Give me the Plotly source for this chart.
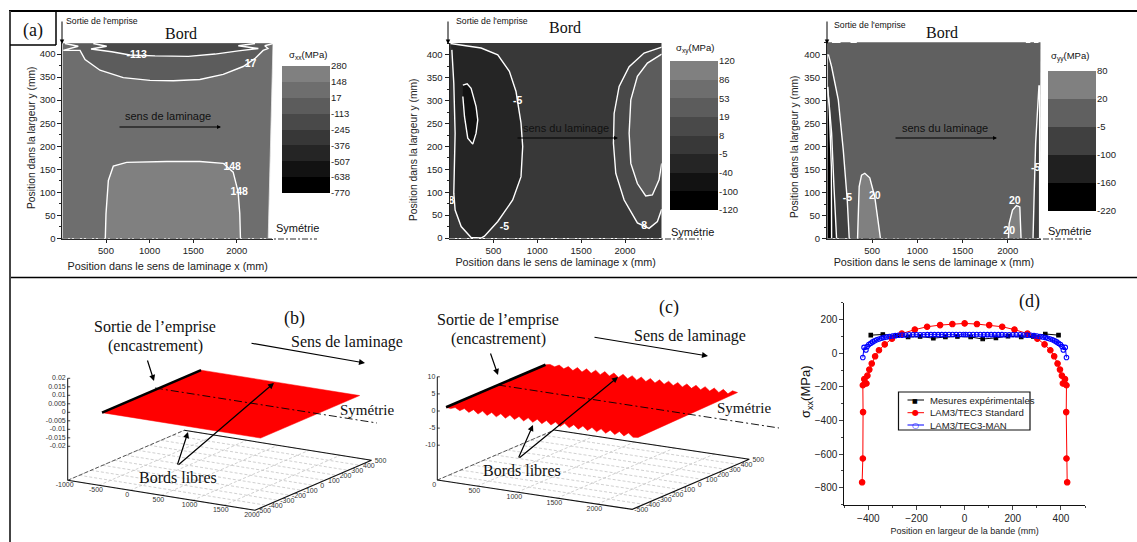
import plotly.graph_objects as go

W, H = 1137, 542
SANS = "Liberation Sans, Arial, sans-serif"
SERIF = "Liberation Serif, Times New Roman, serif"
INK = "#222222"

# ---------- panel (a): sigma_xx ----------
a1_levels = ["-770", "-638", "-507", "-376", "-245", "-113", "17", "148", "280"]
a1_colors = ["#000000", "#121212", "#252525", "#373737", "#494949", "#5c5c5c", "#6e6e6e", "#808080"]
a1_bg_x = [0, 2415, 2360, 0]
a1_bg_y = [424, 424, 0, 0]
a1_c17_x = [30, 182, 10, 202, 260, 431, 698, 1004, 1271, 1576, 1844, 2073, 2206, 2302, 2357, 2321, 2415]
a1_c17_y = [423, 417, 408, 408, 388, 365, 349, 343, 342, 345, 356, 373, 390, 408, 412, 418, 423]
a1_c113_x = [354, 508, 328, 565, 775, 1062, 1444, 1750, 2017, 2247, 2017, 2209]
a1_c113_y = [423, 417, 411, 405, 398, 396, 395, 400, 407, 412, 418, 423]
a1_c148_x = [492, 500, 527, 584, 737, 1195, 1576, 1844, 1958, 2015, 2034, 2042]
a1_c148_y = [0, 54, 126, 157, 165, 167, 167, 163, 144, 101, 54, 0]
a1_lab_x = [851, 2157, 1947, 2027]
a1_lab_y = [397, 377, 154, 100]
a1_lab = ["-113", "17", "148", "148"]

# ---------- panel (a): sigma_xy ----------
a2_levels = ["-120", "-100", "-40", "-5", "8", "19", "53", "86", "120"]
a2_colors = ["#000000", "#121212", "#252525", "#383838", "#494949", "#5c5c5c", "#6e6e6e", "#808080"]
a2_bg_x = [0, 2418, 2418, 0]
a2_bg_y = [426, 426, 0, 0]
a2_dark_x = [11, 360, 550, 682, 758, 815, 834, 815, 720, 550, 398, 360, 246, 133, 64, 49, 64, 49, 27]
a2_dark_y = [425, 415, 400, 364, 320, 251, 200, 134, 83, 36, 4, 0, 1, 25, 61, 98, 229, 338, 411]
a2_core_x = [152, 201, 246, 303, 322, 303, 265, 208, 171, 152]
a2_core_y = [334, 337, 327, 287, 258, 229, 205, 218, 265, 309]
a2_r8_x = [2418, 2217, 2047, 1933, 1876, 1868, 1895, 1990, 2141, 2274, 2369, 2418]
a2_r8_y = [417, 404, 374, 331, 272, 207, 141, 83, 33, 21, 36, 63]
a2_r19_x = [2418, 2255, 2141, 2066, 2047, 2066, 2141, 2236, 2312, 2388, 2418]
a2_r19_y = [402, 382, 353, 302, 229, 163, 119, 92, 94, 127, 163]
a2_lab_x = [777, 625, 2217, 22]
a2_lab_y = [299, 23, 25, 80]
a2_lab = ["-5", "-5", "8", "8"]

# ---------- panel (a): sigma_yy ----------
a3_levels = ["-220", "-160", "-100", "-5", "20", "80"]
a3_colors = ["#000000", "#202020", "#404040", "#606060", "#808080"]
a3_bg_x = [0, 2364, 2352, 0]
a3_bg_y = [426, 426, 0, 0]
a3_m5_x = [15, 51, 125, 180, 224, 246, 0, 0]
a3_m5_y = [400, 373, 301, 192, 84, 0, 0, 400]
a3_m100_x = [7, 51, 77, 106, 0, 0]
a3_m100_y = [330, 229, 113, 0, 0, 330]
a3_m160_x = [7, 51, 48, 26, 7]
a3_m160_y = [0, 0, 156, 279, 329]
a3_r5_x = [2345, 2308, 2290, 2279, 2352, 2352]
a3_r5_y = [333, 207, 84, 0, 0, 333]
a3_p20a_x = [338, 345, 356, 382, 418, 473, 528, 584, 591]
a3_p20a_y = [0, 69, 113, 138, 142, 132, 91, 11, 0]
a3_p20b_x = [2007, 2015, 2052, 2096, 2133, 2144, 2147]
a3_p20b_y = [0, 33, 62, 72, 69, 25, 0]
a3_top_x = [55, 150, None, 260, 330, None, 2200, 2250, None, 2290, 2340]
a3_top_y = [426, 426, None, 426, 426, None, 426, 426, None, 426, 426]
a3_lab_x = [227, 528, 2077, 2015, 2308]
a3_lab_y = [88, 92, 82, 15, 153]
a3_lab = ["-5", "20", "20", "20", "-5"]

a_xticks = [500, 1000, 1500, 2000]

# ---------- panel (b) ----------
b_surf_x = [-590, 1950, 1950, -590]
b_surf_y = [-425, -425, 425, 425]
b_xticks = [-1000, -500, 0, 500, 1000, 1500, 2000]
b_yticks = [-500, -400, -300, -200, -100, 0, 100, 200, 300, 400, 500]
b_zticks = [0.02, 0.015, 0.01, 0.005, 0, -0.005, -0.01, -0.015, -0.02]
b_zlabels = ["0.02", "0.015", "0.01", "0.005", "0", "-0.005", "-0.01", "-0.015", "-0.02"]
b_floor = -0.04

# ---------- panel (c) ----------
c_edge_x = [0, 57, 114, 171, 228, 285, 342, 399, 456, 513, 570, 627, 684, 741, 798, 855, 912, 969, 1026, 1083,
            1140, 1197, 1254, 1311, 1368, 1425, 1482, 1539, 1596, 1653, 1710, 1767, 1824, 1881, 1938, 1995,
            2052, 2109, 2166, 2223, 2280, 2337, 2400]
c_back_z = [0.0, 0.3, -0.2, 0.5, -0.4, 0.5, -0.5, 0.6, -0.5, 0.6, -0.5, 0.6, -0.5, 0.6, -0.5, 0.6, -0.5, 0.6, -0.5, 0.6,
            -0.5, 0.6, -0.5, 0.6, -0.5, 0.6, -0.5, 0.6, -0.5, 0.6, -0.5, 0.6, -0.5, 0.6, -0.5, 0.6,
            -0.5, 0.6, -0.5, 0.6, -0.5, 0.6, 0.3]
c_front_z = [0.0, -0.2, 0.3, -0.4, 0.4, -0.5, 0.5, -0.6, 0.5, -0.6, 0.5, -0.6, 0.5, -0.6, 0.5, -0.6, 0.5, -0.6, 0.5, -0.6,
             0.5, -0.6, 0.5, -0.6, 0.5, -0.6, 0.5, -0.6, 0.5, -0.6, 0.5, -0.6, 0.5, -0.6, 0.5, -0.6,
             0.5, -0.6, 0.5, -0.6, 0.5, -0.6, -0.4]
c_xticks = [0, 500, 1000, 1500, 2000]
c_xend = 2437
c_yticks = b_yticks
c_zticks = [10, 5, 0, -5, -10]
c_floor = -20.2

# ---------- panel (d) ----------
d_names = ["Mesures expérimentales", "LAM3/TEC3 Standard", "LAM3/TEC3-MAN"]
d_exp_x = [-390, -340, -280, -235, -185, -130, -80, -30, 25, 75, 130, 180, 235, 285, 335, 390]
d_exp_y = [108, 112, 105, 97, 100, 90, 97, 100, 97, 85, 92, 102, 97, 100, 115, 108]
d_std_x = [-426, -423, -422, -423, -417, -414, -408, -404, -396, -386, -372, -356, -332, -302, -261, -207, -156,
           -102, -51, 0, 51, 102, 156, 207, 261, 302, 332, 356, 372, 386, 396, 404, 408, 414, 417, 423, 422, 423, 426]
d_std_y = [-768, -626, -350, -190, -154, -178, -180, -133, -97, -61, -18, 18, 53, 87, 117, 141, 158,
           168, 174, 178, 174, 168, 158, 141, 117, 87, 53, 18, -18, -61, -97, -133, -180, -178, -154, -190, -350, -626, -768]
d_man_x = [-423, -418, -410, -405, -398, -390, -382, -374, -365, -355, -345, -335, -325, -313, -300, -288, -275,
           -260, -245, -230, -215, -200, -185, -170, -155, -140, -125, -110, -95, -80, -65, -50, -35, -20, -5,
           5, 20, 35, 50, 65, 80, 95, 110, 125, 140, 155, 170, 185, 200, 215, 230, 245, 260,
           275, 288, 300, 313, 325, 335, 345, 355, 365, 374, 382, 390, 398, 405, 410, 418, 423]
d_man_y = [-25, 35, 20, 40, 52, 60, 68, 75, 80, 85, 90, 94, 97, 100, 103, 105, 107,
           108, 109, 110, 110, 110, 110, 110, 111, 111, 111, 111, 111, 111, 112, 112, 112, 112, 112,
           112, 112, 112, 112, 112, 111, 111, 111, 111, 111, 111, 110, 110, 110, 110, 110, 109, 108,
           107, 105, 103, 100, 97, 94, 90, 85, 80, 75, 68, 60, 52, 40, 20, 35, -25]


def xdom(a, b):
    return [a / W, b / W]


def ydom(top, bot):
    return [1 - bot / H, 1 - top / H]


fig = go.Figure()


def poly(xs, ys, fill, ax, line="white", lw=1.4):
    fig.add_trace(go.Scatter(x=xs, y=ys, mode="lines", fill="toself", fillcolor=fill,
                             line=dict(color=line, width=lw), xaxis="x" + ax, yaxis="y" + ax,
                             hoverinfo="skip", showlegend=False))


def labels(xs, ys, txt, ax):
    fig.add_trace(go.Scatter(x=xs, y=ys, text=txt, mode="text",
                             textfont=dict(family=SANS, size=10.5, color="white", weight="bold"),
                             xaxis="x" + ax, yaxis="y" + ax, hoverinfo="skip", showlegend=False))


def colorbar(levels, colors, ax):
    for i, c in enumerate(colors):
        fig.add_trace(go.Bar(x=[0], y=[1], base=[i], width=1, marker=dict(color=c, line=dict(width=0)),
                             xaxis="x" + ax, yaxis="y" + ax, hoverinfo="skip", showlegend=False))


# sigma_xx
poly(a1_bg_x, a1_bg_y, a1_colors[6], "", line="#e8e8e8", lw=0.8)
poly(a1_c17_x, a1_c17_y, a1_colors[5], "")
poly(a1_c113_x, a1_c113_y, a1_colors[4], "")
poly(a1_c148_x, a1_c148_y, a1_colors[7], "")
labels(a1_lab_x, a1_lab_y, a1_lab, "")
colorbar(a1_levels, a1_colors, "4")
# sigma_xy
poly(a2_bg_x, a2_bg_y, a2_colors[3], "2", line=a2_colors[3], lw=0)
poly(a2_dark_x, a2_dark_y, a2_colors[2], "2")
poly(a2_core_x, a2_core_y, a2_colors[1], "2")
poly(a2_r8_x, a2_r8_y, a2_colors[4], "2")
poly(a2_r19_x, a2_r19_y, a2_colors[5], "2")
labels(a2_lab_x, a2_lab_y, a2_lab, "2")
colorbar(a2_levels, a2_colors, "5")
# sigma_yy
poly(a3_bg_x, a3_bg_y, a3_colors[3], "3", line=a3_colors[3], lw=0)
poly(a3_m5_x, a3_m5_y, a3_colors[2], "3")
poly(a3_m100_x, a3_m100_y, a3_colors[1], "3")
poly(a3_m160_x, a3_m160_y, a3_colors[0], "3")
poly(a3_r5_x, a3_r5_y, a3_colors[2], "3")
poly(a3_p20a_x, a3_p20a_y, a3_colors[4], "3")
poly(a3_p20b_x, a3_p20b_y, a3_colors[4], "3")
fig.add_trace(go.Scatter(x=a3_top_x, y=a3_top_y, mode="lines", line=dict(color="white", width=1.4),
                         xaxis="x3", yaxis="y3", hoverinfo="skip", showlegend=False))
labels(a3_lab_x, a3_lab_y, a3_lab, "3")
colorbar(a3_levels, a3_colors, "6")

# panel (d)
d_styles = [("#000000", "square", 3.5), ("#ff0000", "circle", 5.5), ("#0000ff", "circle-open", 4.5)]
for xs, ys, name, (col, msym, msize) in zip([d_exp_x, d_std_x, d_man_x], [d_exp_y, d_std_y, d_man_y], d_names, d_styles):
    fig.add_trace(go.Scatter(x=xs, y=ys, name=name, mode="lines+markers", xaxis="x7", yaxis="y7",
                             line=dict(color=col, width=1), showlegend=False,
                             marker=dict(symbol=msym, size=msize, color=col, line=dict(color=col, width=1.1))))


# projected 3-D panels, drawn in the pixel-scaled overlay axes
def pb(x, y, z):
    return (67.7 + (x + 1000) * 0.06243 + (y + 500) * 0.1165,
            412.3 + (x + 1000) * 0.01 - (y + 500) * 0.05 - z * 1700)


def pc(x, y, z):
    return (437.3 + x * 0.08 + (y + 500) * 0.117,
            411 + x * 0.012 - (y + 500) * 0.05 - z * 3.42)


def seg(pts, color, width, dash="solid"):
    fig.add_trace(go.Scatter(x=[p[0] for p in pts], y=[p[1] for p in pts], mode="lines",
                             line=dict(color=color, width=width, dash=dash), xaxis="x8", yaxis="y8",
                             hoverinfo="skip", showlegend=False))


def txt(pts, strs, pos="middle center", size=7):
    fig.add_trace(go.Scatter(x=[p[0] for p in pts], y=[p[1] for p in pts], text=strs, mode="text",
                             textposition=pos, textfont=dict(family=SANS, size=size, color="#333333"),
                             xaxis="x8", yaxis="y8", hoverinfo="skip", showlegend=False))


def floor(proj, xs, xmin, xmax, ys, zf, zticks, zlabs):
    for xv in xs:
        seg([proj(xv, -500, zf), proj(xv, 500, zf)], "#c4c4c4", 0.8, "3px,2px")
    for yv in ys:
        seg([proj(xmin, yv, zf), proj(xmax, yv, zf)], "#c4c4c4", 0.8, "3px,2px")
    seg([proj(xmin, -500, zf), proj(xmax, -500, zf), proj(xmax, 500, zf), proj(xmin, 500, zf)], "#111111", 1.1)
    seg([proj(xmin, -500, zf), proj(xmin, 500, zf)], "#333333", 0.8, "4px,2px")
    seg([proj(xmin, -500, zticks[0]), proj(xmin, -500, zf)], "#111111", 1.0)
    for z in zticks:
        a = proj(xmin, -500, z)
        seg([a, (a[0] + 2.5, a[1])], "#111111", 0.8)
    txt([(proj(xmin, -500, z)[0] - 2, proj(xmin, -500, z)[1]) for z in zticks], zlabs, "middle left")
    pts = [proj(xv, -500, zf) for xv in xs]
    txt([(p[0] - 3, p[1] + 5) for p in pts], [str(v) for v in xs])
    pts = [proj(xmax, yv, zf) for yv in ys]
    txt([(p[0] + 9, p[1] + 1) for p in pts], [str(v) for v in ys])


floor(pb, b_xticks, b_xticks[0], b_xticks[-1], b_yticks, b_floor, b_zticks, b_zlabels)
floor(pc, c_xticks, 0, c_xend, c_yticks, c_floor, c_zticks, [str(z) for z in c_zticks])

corners = [pb(x, y, 0) for x, y in zip(b_surf_x, b_surf_y)]
fig.add_trace(go.Scatter(x=[p[0] for p in corners], y=[p[1] for p in corners], mode="lines", fill="toself",
                         fillcolor="#ff0000", line=dict(color="#ff0000", width=0.5), xaxis="x8", yaxis="y8",
                         hoverinfo="skip", showlegend=False))
seg([corners[0], corners[3]], "#000000", 2.6)

front = [pc(x, -425, z) for x, z in zip(c_edge_x, c_front_z)]
back = [pc(x, 425, z) for x, z in zip(c_edge_x, c_back_z)]
outline = front + back[::-1]
fig.add_trace(go.Scatter(x=[p[0] for p in outline], y=[p[1] for p in outline], mode="lines", fill="toself",
                         fillcolor="#ff0000", line=dict(color="#ff0000", width=0.5), xaxis="x8", yaxis="y8",
                         hoverinfo="skip", showlegend=False))
seg([front[0], back[0]], "#000000", 2.6)

# ---------- overlay text and arrows ----------
annos = []


def note(text, x, y, size, family=SERIF, color="#111111", xanchor="center", angle=0):
    annos.append(dict(text=text, x=x, y=y, xref="x8", yref="y8", showarrow=False, xanchor=xanchor, textangle=angle,
                      yanchor="middle", font=dict(family=family, size=size, color=color)))


def arrow(x0, y0, x1, y1, width=1.2, size=1.0):
    annos.append(dict(text="", x=x1, y=y1, ax=x0, ay=y0, xref="x8", yref="y8", axref="x8", ayref="y8",
                      showarrow=True, arrowhead=2, arrowsize=size, arrowwidth=width, arrowcolor="#000000"))


XT = "Position dans le sens de laminage x (mm)"
YT = "Position dans la largeur y (mm)"

note("(a)", 33, 30, 18)
for x, y in [(181, 33), (565, 27), (942, 32)]:
    note("Bord", x, y, 16)
for x, y in [(64, 21), (454, 21), (832, 25)]:
    note("Sortie de l'emprise", x, y, 8.7, SANS, xanchor="left")
for x in [62, 448, 827]:
    arrow(x, 20, x, 44, 1.0, 0.9)
note("sens de laminage", 168, 116, 11, SANS)
note("sens du laminage", 566, 128, 11, SANS)
note("sens du laminage", 945, 128, 11, SANS)
arrow(118, 127, 221, 127, 1.0, 0.8)
arrow(516, 138, 618, 138, 1.0, 0.8)
arrow(894, 138, 997, 138, 1.0, 0.8)
for x, y in [(297, 228), (692, 232), (1069, 231)]:
    note("Symétrie", x, y, 11, SANS)
for t, x, y in [("σ<sub>xx</sub>(MPa)", 308, 55), ("σ<sub>xy</sub>(MPa)", 695, 48), ("σ<sub>yy</sub>(MPa)", 1070, 56)]:
    note(t, x, y, 9.5, SANS)
for x, y in [(31, 138), (413, 150), (794, 147)]:
    note(YT, x, y, 10.3, SANS, color=INK, angle=-90)

note("(b)", 294, 318, 18)
note("Sortie de l’emprise", 155, 327, 16)
note("(encastrement)", 155, 346, 16)
note("Sens de laminage", 347, 342, 16)
arrow(250, 343, 365, 363, 1.2)
note("Symétrie", 367, 410, 15)
note("Bords libres", 178, 477, 16)
arrow(177, 466, 188, 432, 1.2)
arrow(177, 466, 274, 383, 1.2)
arrow(147, 359, 154, 381, 1.2)

note("(c)", 669, 307, 18)
note("Sortie de l’emprise", 498, 320, 16)
note("(encastrement)", 498, 339, 16)
note("Sens de laminage", 690, 336, 16)
arrow(593, 337, 708, 356, 1.2)
note("Symétrie", 744, 408, 15)
note("Bords libres", 522, 470, 16)
arrow(518, 459, 533, 425, 1.2)
arrow(518, 459, 618, 377, 1.2)
arrow(490, 352, 498, 375, 1.2)

note("(d)", 1029, 301, 18)
note("σ<sub>xx</sub>(MPa)", 806, 392, 13, SANS, angle=-90)


def hline(x0, y0, x1, y1, color="#000000", width=1.0, dash="solid"):
    return dict(type="line", xref="x8", yref="y8", x0=x0, y0=y0, x1=x1, y1=y1, layer="above",
                line=dict(color=color, width=width, dash=dash))


shapes = [
    hline(9, 11, 1137, 11, width=2),
    hline(9, 277.5, 1137, 277.5, width=1.5),
    hline(10, 11, 10, 542, color="#444444", width=2),
    hline(10, 45, 56, 45, width=1.5),
    hline(56, 11, 56, 45, width=1.5),
    hline(62, 239, 317, 239, color="#333333", width=1.2, dash="6px,2px,2px,2px"),
    hline(449, 239, 702, 239, color="#333333", width=1.2, dash="6px,2px,2px,2px"),
    hline(827, 239, 1082, 239, color="#333333", width=1.2, dash="6px,2px,2px,2px"),
    hline(155, 388, 377, 423, width=0.9, dash="8px,3px,2px,3px"),
    hline(498, 385, 779, 428, width=0.9, dash="8px,3px,2px,3px"),
    dict(type="rect", xref="x8", yref="y8", x0=898.5, y0=392, x1=1030, y1=430, layer="above",
         line=dict(color="#111111", width=1.2), fillcolor="white"),
]

# compact key for panel (d), drawn above the box
key_y = [400, 412.7, 425]
for name, (col, msym, msize), yk in zip(d_names, d_styles, key_y):
    annos.append(dict(text=name, x=928, y=yk, xref="x8", yref="y8", xanchor="left", yanchor="middle", showarrow=False,
                      font=dict(family=SANS, size=9.6, color=INK)))
    annos.append(dict(text="", x=924, y=yk, ax=906, ay=yk, xref="x8", yref="y8", axref="x8", ayref="y8",
                      showarrow=True, arrowhead=0, arrowwidth=1, arrowcolor=col))
    mark = {"square": "■", "circle": "●", "circle-open": "○"}[msym]
    annos.append(dict(text=mark, x=915, y=yk, xref="x8", yref="y8", showarrow=False,
                      font=dict(family="DejaVu Sans", size=8 if msym != "square" else 6, color=col)))


def cont_x(dom, rng, title, standoff):
    return dict(domain=xdom(*dom), range=rng, tickvals=a_xticks, showline=True, linecolor="#222222", linewidth=1,
                ticks="outside", ticklen=3, tickcolor="#222222", showgrid=False, zeroline=False, automargin=False,
                tickfont=dict(family=SANS, size=9.5, color=INK),
                title=dict(text=title, standoff=standoff, font=dict(family=SANS, size=10.8, color=INK)))


def cont_y(dom, rng, ax):
    return dict(domain=ydom(*dom), range=rng, anchor=ax, dtick=50, tick0=0, showline=True, linecolor="#222222",
                linewidth=1, ticks="outside", ticklen=4, tickcolor="#222222", showgrid=False, zeroline=False,
                automargin=False, minor=dict(dtick=25, ticks="outside", ticklen=2, tickcolor="#222222"),
                tickfont=dict(family=SANS, size=9.5, color=INK))


def bar_x(dom, anchor):
    return dict(domain=xdom(*dom), range=[-0.5, 0.5], visible=False, anchor=anchor, fixedrange=True)


def bar_y(dom, levels, anchor):
    return dict(domain=ydom(*dom), range=[0, len(levels) - 1], anchor=anchor, side="right",
                tickvals=list(range(len(levels))), ticktext=levels, ticks="",
                showgrid=False, zeroline=False, showline=False, automargin=False,
                tickfont=dict(family=SANS, size=9.5, color=INK))


fig.update_layout(
    width=W, height=H, margin=dict(l=0, r=0, t=0, b=0), autosize=False, showlegend=False,
    paper_bgcolor="white", plot_bgcolor="rgba(0,0,0,0)", barmode="overlay", bargap=0,
    xaxis=cont_x((62.4, 273), [0, 2415], XT, 7),
    yaxis=cont_y((43, 238.5), [0, 424], "x"),
    xaxis2=cont_x((449.5, 661.7), [0, 2418], XT, 1),
    yaxis2=cont_y((43, 238), [0, 426], "x2"),
    xaxis3=cont_x((827, 1040.7), [0, 2364], XT, 0),
    yaxis3=cont_y((42, 238.7), [0, 426.7], "x3"),
    xaxis4=bar_x((282, 330), "y4"), yaxis4=bar_y((66, 193), a1_levels, "x4"),
    xaxis5=bar_x((670, 718), "y5"), yaxis5=bar_y((61, 210), a2_levels, "x5"),
    xaxis6=bar_x((1048, 1096), "y6"), yaxis6=bar_y((71, 211), a3_levels, "x6"),
    xaxis7=dict(domain=xdom(844.3, 1085), range=[-500, 500], anchor="y7", tickvals=[-400, -200, 0, 200, 400],
                showline=True, linecolor="#111111", ticks="outside", ticklen=4, showgrid=False, zeroline=False,
                automargin=False, minor=dict(dtick=100, ticks="outside", ticklen=2),
                tickfont=dict(family=SANS, size=10, color=INK),
                title=dict(text="Position en largeur de la bande (mm)", standoff=5,
                           font=dict(family=SANS, size=9, color=INK))),
    yaxis7=dict(domain=ydom(302.9, 504.5), range=[-900, 300], anchor="x7", tickvals=[-800, -600, -400, -200, 0, 200],
                showline=True, linecolor="#111111", ticks="outside", ticklen=4, showgrid=False, zeroline=False,
                automargin=False, minor=dict(dtick=100, ticks="outside", ticklen=2),
                tickfont=dict(family=SANS, size=10, color=INK)),
    xaxis8=dict(domain=[0, 1], range=[0, W], visible=False, anchor="y8", fixedrange=True),
    yaxis8=dict(domain=[0, 1], range=[H, 0], visible=False, anchor="x8", fixedrange=True),
    annotations=annos, shapes=shapes,
)

PIN = ("document.body.style.margin='0';"
       "var g=document.getElementById('{plot_id}');"
       "g.style.position='fixed';g.style.left='0';g.style.top='0';")
fig.write_html("out.html", post_script=PIN, config={"displayModeBar": False})
